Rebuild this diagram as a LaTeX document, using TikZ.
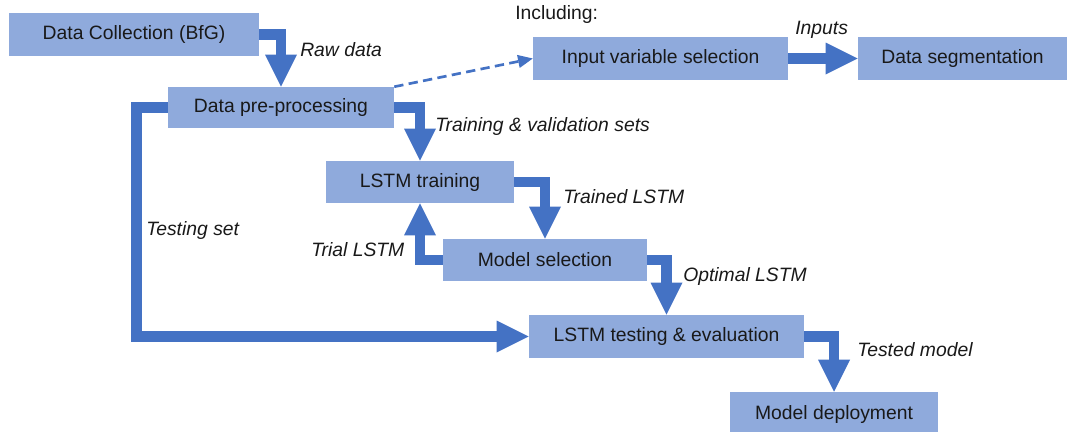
\documentclass[tikz,border=0pt]{standalone}
\usepackage{fontspec}
\setmainfont{Liberation Sans}
\usetikzlibrary{arrows.meta}
\definecolor{boxblue}{RGB}{143,170,220}
\definecolor{flowblue}{RGB}{68,114,196}
\definecolor{txtgray}{RGB}{25,25,25}

\begin{document}
\begin{tikzpicture}[x=0.75pt,y=0.75pt,yscale=-1,xscale=1,
  stage/.style={fill=boxblue, inner sep=0pt, text=txtgray, font=\fontsize{14.5pt}{17pt}\selectfont},
  flow/.style={draw=flowblue, line width=8pt, -{Triangle[length=24pt,width=24pt,line width=0pt]}},
  dashflow/.style={draw=flowblue, line width=2pt, dash pattern=on 7pt off 4pt, -{Triangle[length=11pt,width=10pt,line width=0pt]}},
  lbl/.style={inner sep=0pt, anchor=west, text=txtgray, font=\fontsize{14.5pt}{17pt}\selectfont\itshape}]
\useasboundingbox (0,0) rectangle (1072,432);

% Stages
\node [stage, minimum width=187.5pt, minimum height=32.25pt] (dc) at (134,34.5) {Data Collection (BfG)};
\node [stage, minimum width=169.5pt, minimum height=30.75pt] (pre) at (281,107.5) {Data pre-processing};
\node [stage, minimum width=191.25pt, minimum height=32.25pt] (ivs) at (660.5,58.5) {Input variable selection};
\node [stage, minimum width=156.75pt, minimum height=32.25pt] (seg) at (962.5,58.5) {Data segmentation};
\node [stage, minimum width=141pt, minimum height=31.5pt] (lstm) at (420,182) {LSTM training};
\node [stage, minimum width=153pt, minimum height=31.5pt] (msel) at (545,260) {Model selection};
\node [stage, minimum width=206.25pt, minimum height=32.25pt] (test) at (666.5,336.5) {LSTM testing \& evaluation};
\node [stage, minimum width=156pt, minimum height=33pt] (dep) at (834,414) {Model deployment};

% Flows
\draw [flow] (dc.east) -| (pre.north);
\draw [dashflow] (pre.north east) -- (ivs.west);
\draw [flow] (ivs.east) -- (seg.west);
\draw [flow] (pre.east) -| (lstm.north);
\draw [flow] (lstm.east) -| (msel.north);
\draw [flow] (msel.west) -| (lstm.south);
\draw [flow] (msel.east) -| (test.north);
\draw [flow] (pre.west) -- ++(-31,0) |- (test.west);
\draw [flow] (test.east) -| (dep.north);

% Text Nodes
\node [lbl, font=\fontsize{14.5pt}{17pt}\selectfont] (incl) at (515,15) {Including:};
\node [lbl] (raw) at (300,50) {Raw data};
\node [lbl] (inp) at (795,30) {Inputs};
\node [lbl] (tvs) at (435,127) {Training \& validation sets};
\node [lbl] (trd) at (563,197) {Trained LSTM};
\node [lbl] (trl) at (311,250) {Trial LSTM};
\node [lbl] (tst) at (146,230) {Testing set};
\node [lbl] (opt) at (683,276) {Optimal LSTM};
\node [lbl] (tmd) at (857,350) {Tested model};

\end{tikzpicture}
\end{document}
